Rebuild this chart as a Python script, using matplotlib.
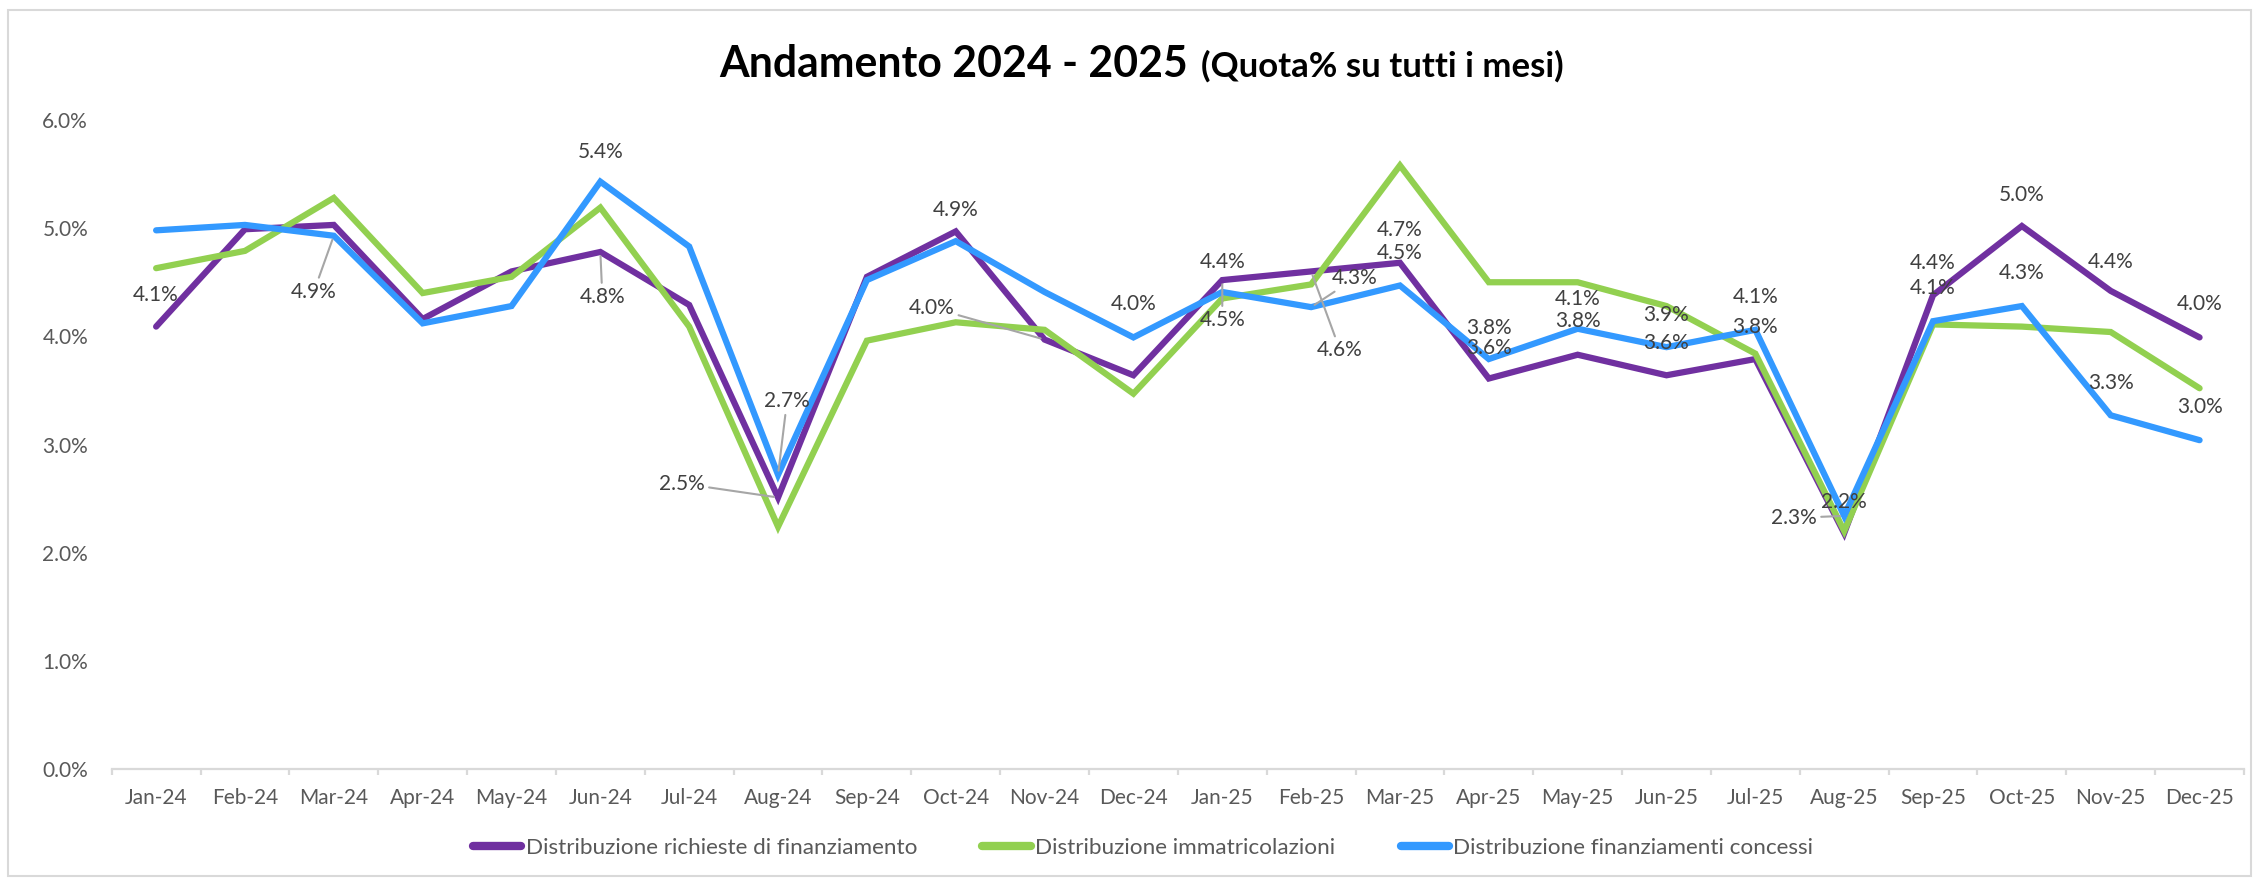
import matplotlib
matplotlib.use("Agg")
import matplotlib.pyplot as plt
from matplotlib.patches import Rectangle
from matplotlib.ticker import FixedLocator, PercentFormatter

plt.rcParams['font.family'] = ['Lato', 'DejaVu Sans']

months = ['Jan-24', 'Feb-24', 'Mar-24', 'Apr-24', 'May-24', 'Jun-24', 'Jul-24', 'Aug-24',
          'Sep-24', 'Oct-24', 'Nov-24', 'Dec-24', 'Jan-25', 'Feb-25', 'Mar-25', 'Apr-25',
          'May-25', 'Jun-25', 'Jul-25', 'Aug-25', 'Sep-25', 'Oct-25', 'Nov-25', 'Dec-25']

richieste = [4.09, 4.99, 5.03, 4.16, 4.60, 4.78, 4.29, 2.51, 4.55, 4.97, 3.97, 3.64,
             4.52, 4.60, 4.68, 3.61, 3.83, 3.64, 3.79, 2.18, 4.38, 5.02, 4.42, 3.99]
immatricolazioni = [4.63, 4.79, 5.28, 4.40, 4.55, 5.19, 4.09, 2.24, 3.96, 4.13, 4.06, 3.47,
                    4.35, 4.48, 5.58, 4.50, 4.50, 4.28, 3.84, 2.20, 4.11, 4.09, 4.04, 3.52]
concessi = [4.98, 5.03, 4.93, 4.12, 4.28, 5.43, 4.83, 2.72, 4.52, 4.88, 4.41, 3.99,
            4.41, 4.27, 4.47, 3.79, 4.07, 3.90, 4.06, 2.34, 4.14, 4.28, 3.27, 3.04]

series_names = ['Distribuzione richieste di finanziamento',
                'Distribuzione immatricolazioni',
                'Distribuzione finanziamenti concessi']
colors = ['#7030A0', '#92D050', '#3399FF']

# which points carry a data label, with label offset (pixels) and leader flag
labels_richieste = {0: (0, 32, False), 5: (2, -45, True), 7: (-96, 14, True),
                    10: (-113, 32, True), 12: (0, -40, True), 13: (29, -79, True),
                    14: (0, 33, False), 15: (0, 31, False), 16: (0, 34, False),
                    17: (0, 32, False), 18: (0, 32, False), 19: (0, 31, False),
                    20: (0, 32, False), 21: (0, 31, False), 22: (0, 29, False),
                    23: (0, 33, False)}
labels_concessi = {2: (-20, -56, True), 5: (0, 30, False), 7: (9, 74, True),
                   9: (0, 31, False), 11: (0, 33, False), 12: (0, 30, False),
                   13: (44, 29, True), 14: (0, 32, False), 15: (0, 31, False),
                   16: (0, 30, False), 17: (0, 32, False), 18: (0, 33, False),
                   19: (-50, -2, True), 20: (0, 33, False), 21: (0, 33, False),
                   22: (0, 32, False), 23: (0, 33, False)}

W, H = 2259, 884
fig = plt.figure(figsize=(W / 100, H / 100), dpi=100)
fig.patch.set_facecolor('white')

left, right, top, bottom = 111.7, 2244, 120, 769
ax = fig.add_axes([left / W, 1 - bottom / H, (right - left) / W, (bottom - top) / H])

x = list(range(len(months)))
data = [richieste, immatricolazioni, concessi]
lines = []
for vals, c, name in zip(data, colors, series_names):
    ln, = ax.plot(x, [v / 100 for v in vals], color=c, lw=4.5, label=name,
                  solid_joinstyle='miter', solid_capstyle='round', zorder=3)
    lines.append(ln)

ax.set_xlim(-0.5, len(months) - 0.5)
ax.set_ylim(0, 0.06)
ax.yaxis.set_major_locator(FixedLocator([i / 100 for i in range(7)]))
ax.yaxis.set_major_formatter(PercentFormatter(1.0, decimals=1))
ax.set_xticks(x)
ax.set_xticklabels(months)
ax.xaxis.set_minor_locator(FixedLocator([i - 0.5 for i in range(len(months) + 1)]))

for s in ['top', 'right', 'left']:
    ax.spines[s].set_visible(False)
ax.spines['bottom'].set_color('#D9D9D9')
ax.spines['bottom'].set_linewidth(1.6)

ax.tick_params(axis='x', which='major', length=0, pad=14, labelsize=15, labelcolor='#595959')
ax.tick_params(axis='x', which='minor', length=4, width=1.6, color='#D9D9D9', direction='out')
ax.tick_params(axis='y', which='major', length=0, pad=17, labelsize=15, labelcolor='#595959')

def add_labels(vals, spec):
    for i, (dx, dy, leader) in spec.items():
        v = vals[i]
        kw = {}
        if leader:
            kw['arrowprops'] = dict(arrowstyle='-', color='#A6A6A6', lw=1.5,
                                    shrinkA=1, shrinkB=3)
        ax.annotate(f'{v:.1f}%', xy=(i, v / 100), xytext=(dx, dy),
                    textcoords='offset pixels', ha='center', va='center',
                    fontsize=15, color='#404040', zorder=5, **kw)

add_labels(richieste, labels_richieste)
add_labels(concessi, labels_concessi)

leg = fig.legend(handles=lines, loc='center', bbox_to_anchor=(1143 / W, 1 - 848 / H),
                 ncol=3, frameon=False, fontsize=16.2, handlelength=2.15,
                 handletextpad=0.2, columnspacing=2.9)
for t in leg.get_texts():
    t.set_color('#595959')
for h in leg.legend_handles:
    h.set_linewidth(6)

# title in two parts
y_base = 1 - 77 / H
t1 = fig.text(0, y_base, 'Andamento 2024 - 2025', fontsize=30.8, fontweight='bold',
              va='baseline', ha='left', color='black')
t2 = fig.text(0, y_base, '(Quota% su tutti i mesi)', fontsize=25, fontweight='bold',
              va='baseline', ha='left', color='black')
fig.canvas.draw()
r = fig.canvas.get_renderer()
w1 = t1.get_window_extent(r).width
w2 = t2.get_window_extent(r).width
gap = 13
x0 = 1141 - (w1 + gap + w2) / 2
t1.set_x(x0 / W)
t2.set_x((x0 + w1 + gap) / W)

fig.patches.append(Rectangle((8 / W, 8 / H), (W - 16) / W, (H - 18) / H,
                             transform=fig.transFigure, fill=False,
                             edgecolor='#D9D9D9', lw=1.5))

fig.savefig('out.png', dpi=100)
